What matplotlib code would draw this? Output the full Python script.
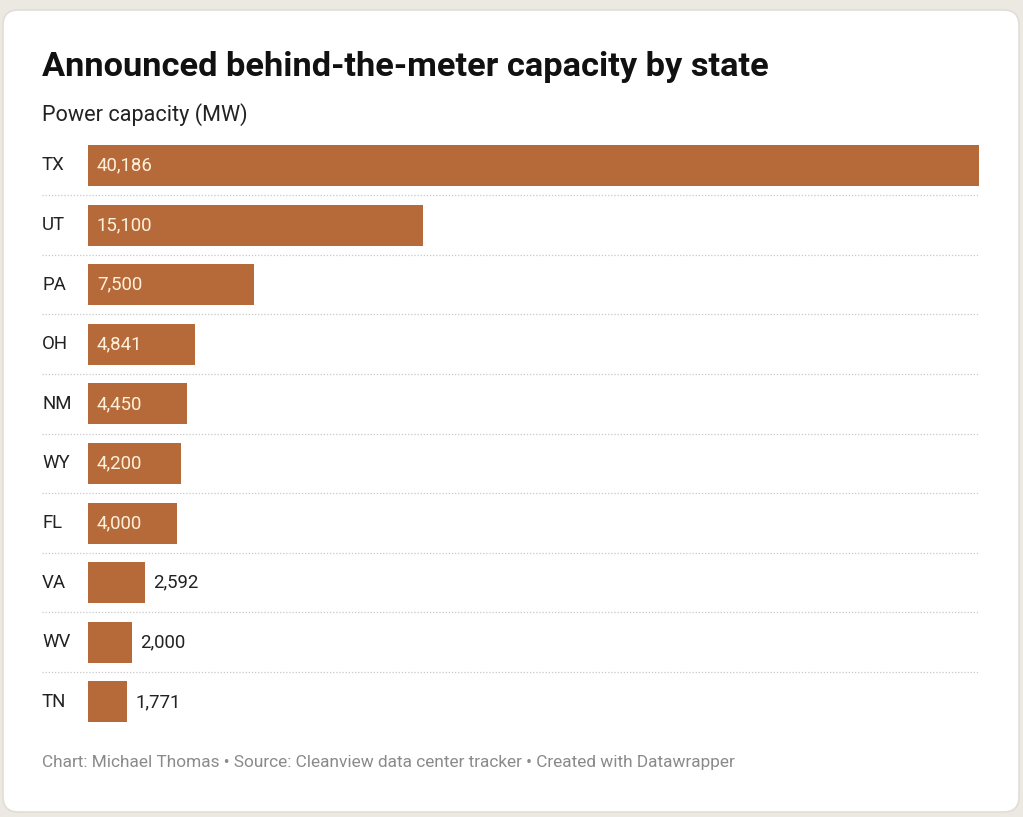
import matplotlib
matplotlib.use("Agg")
import matplotlib.pyplot as plt
from matplotlib.patches import FancyBboxPatch
import matplotlib.transforms as mtrans

states = ["TX", "UT", "PA", "OH", "NM", "WY", "FL", "VA", "WV", "TN"]
capacity = [40186, 15100, 7500, 4841, 4450, 4200, 4000, 2592, 2000, 1771]
value_labels = ["40,186", "15,100", "7,500", "4,841", "4,450", "4,200", "4,000", "2,592", "2,000", "1,771"]

title = "Announced behind-the-meter capacity by state"
subtitle = "Power capacity (MW)"
footer = "Chart: Michael Thomas \u2022 Source: Cleanview data center tracker \u2022 Created with Datawrapper"

plt.rcParams['font.family'] = ['Roboto', 'DejaVu Sans']

W, H = 1023, 817
fig = plt.figure(figsize=(W / 100, H / 100), dpi=100)
fig.patch.set_facecolor("#ece8e2")

# card
card = FancyBboxPatch((3 / W, 5 / H), (1016 / W), (802 / H),
                      boxstyle="round,pad=0,rounding_size=0.015",
                      transform=fig.transFigure, facecolor="white",
                      edgecolor="#e2ddd5", linewidth=1.2, mutation_aspect=W / H,
                      zorder=-10)
fig.patches.append(card)

def fy(py):
    return 1 - py / H

fig.text(42 / W, fy(67), title, fontsize=24.75, fontweight="bold", color="#111111",
         ha="left", va="center")
fig.text(42 / W, fy(115), subtitle, fontsize=15.6, color="#222222", ha="left", va="center")
fig.text(42 / W, fy(763), footer, fontsize=12.4, color="#8a8a8a", ha="left", va="center")

pitch = 59.6
c0 = 165.5
top = c0 - pitch / 2
bottom = c0 + 9 * pitch + pitch / 2
left_px, right_px = 88, 979
ax = fig.add_axes([left_px / W, fy(bottom), (right_px - left_px) / W, (bottom - top) / H])
ax.set_facecolor("none")
ax.set_xlim(0, max(capacity))
ax.set_ylim(len(states) - 0.5, -0.5)
for s in ax.spines.values():
    s.set_visible(False)
ax.set_xticks([])
ax.set_yticks([])

bar_color = "#b76a39"
ypos = list(range(len(states)))
ax.barh(ypos, capacity, height=41 / pitch, color=bar_color, edgecolor="none")

trans = mtrans.blended_transform_factory(ax.transAxes, ax.transData)
lab_x = (42 - left_px) / (right_px - left_px)
for i, (st, v, lab) in enumerate(zip(states, capacity, value_labels)):
    ax.text(lab_x, i, st, transform=trans, fontsize=13.4, color="#222222",
            ha="left", va="center")
    if v >= 3500:
        ax.annotate(lab, (0, i), xytext=(9, 0), textcoords="offset pixels",
                    fontsize=13.4, color="#fdf1dc", ha="left", va="center")
    else:
        ax.annotate(lab, (v, i), xytext=(8, 0), textcoords="offset pixels",
                    fontsize=13.4, color="#222222", ha="left", va="center")

for i in range(len(states) - 1):
    ax.plot([lab_x, 1.0], [i + 0.5, i + 0.5], transform=trans, clip_on=False,
            color="#c8c8c8", linestyle=(0, (1, 1.5)), linewidth=0.9)

fig.savefig("out.png", dpi=100, facecolor=fig.get_facecolor())
